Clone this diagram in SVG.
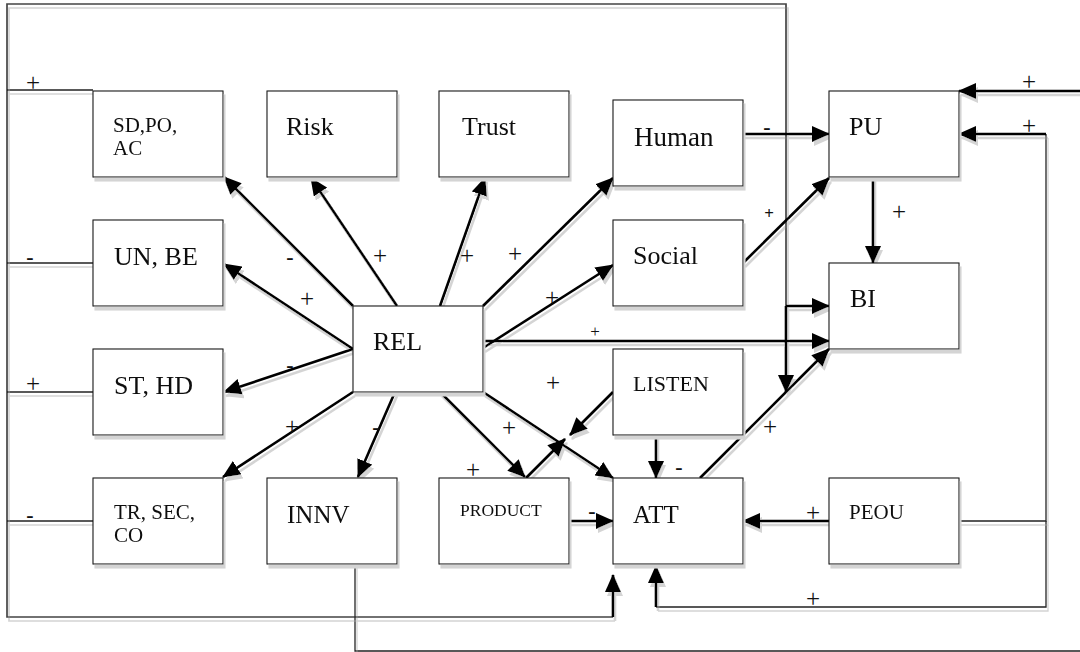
<svg xmlns="http://www.w3.org/2000/svg" width="1080" height="652" viewBox="0 0 1080 652">
  <style>
    .box { fill: #ffffff; stroke: #1a1a1a; stroke-width: 1.1; }
    .lbl { font-family: "Liberation Serif", "Times New Roman", serif; fill: #111111; }
    .sign { font-family: "Liberation Serif", "Times New Roman", serif; font-size: 25px; fill: #111111; text-anchor: middle; }
    .minus { font-weight: bold; font-size: 22px; }
    .sm { font-size: 17px; }
    .thick { fill: none; stroke: #000000; stroke-width: 2.6; }
    .thin { fill: none; stroke: #222222; stroke-width: 1.3; }
    .frame { fill: none; stroke: #444444; stroke-width: 1.7; }
    .arr { marker-end: url(#head); }
  </style>
  <defs>
    <marker id="head" markerUnits="userSpaceOnUse" markerWidth="18" markerHeight="16" viewBox="0 0 18 16" refX="17" refY="8" orient="auto">
      <path d="M0,0 L18,8 L0,16 z" fill="#000000"/>
    </marker>
    <filter id="shade" filterUnits="userSpaceOnUse" x="0" y="0" width="1080" height="652">
      <feOffset in="SourceAlpha" dx="2" dy="4" result="off"/>
      <feFlood flood-color="#d4d4d4"/>
      <feComposite in2="off" operator="in" result="sh"/>
      <feMerge>
        <feMergeNode in="sh"/>
        <feMergeNode in="SourceGraphic"/>
      </feMerge>
    </filter>
  </defs>
  <rect width="1080" height="652" fill="#ffffff"/>

  <!-- connectors -->
  <g id="connectors" filter="url(#shade)">
    <!-- outer feedback frame -->
    <polyline class="frame" points="786,306 786,4 7,4 7,617 613,617"/>
    <line class="thin" x1="7" y1="90" x2="93" y2="90"/>
    <line class="thin" x1="7" y1="263" x2="93" y2="263"/>
    <line class="thin" x1="7" y1="392" x2="93" y2="392"/>
    <line class="thin" x1="7" y1="521" x2="93" y2="521"/>
    <line class="thick arr" x1="613" y1="617" x2="613" y2="575"/>
    <line class="thick arr" x1="786" y1="306" x2="829" y2="306"/>
    <line class="thick arr" x1="786" y1="306" x2="786" y2="392"/>

    <!-- REL fan-out -->
    <line class="thick arr" x1="353" y1="306" x2="224" y2="177"/>
    <line class="thick arr" x1="397" y1="306" x2="311" y2="178"/>
    <line class="thick arr" x1="440" y1="306" x2="485" y2="178"/>
    <line class="thick arr" x1="483" y1="306" x2="613" y2="178"/>
    <line class="thick arr" x1="483" y1="348" x2="613" y2="265"/>
    <line class="thick arr" x1="483" y1="341" x2="829" y2="341"/>
    <line class="thick arr" x1="353" y1="349" x2="224" y2="264"/>
    <line class="thick arr" x1="353" y1="349" x2="224" y2="392"/>
    <line class="thick arr" x1="353" y1="392" x2="223" y2="477"/>
    <line class="thick arr" x1="395" y1="392" x2="358" y2="477"/>
    <line class="thick arr" x1="440" y1="392" x2="525" y2="477"/>
    <line class="thick arr" x1="483" y1="392" x2="613" y2="478"/>

    <!-- LISTEN / PRODUCT / ATT -->
    <line class="thick arr" x1="613" y1="392" x2="570" y2="435"/>
    <line class="thick arr" x1="526" y1="478" x2="565" y2="439"/>
    <line class="thick arr" x1="656" y1="435" x2="656" y2="478"/>
    <line class="thick arr" x1="569" y1="521" x2="613" y2="521"/>
    <line class="thick arr" x1="700" y1="478" x2="829" y2="349"/>

    <!-- PU / BI side -->
    <line class="thick arr" x1="743" y1="134" x2="829" y2="134"/>
    <line class="thick arr" x1="743" y1="263" x2="829" y2="178"/>
    <line class="thick arr" x1="873" y1="177" x2="873" y2="263"/>
    <line class="thick arr" x1="1080" y1="91" x2="959" y2="91"/>

    <!-- PEOU paths -->
    <polyline class="thin" points="959,521 1046,521 1046,134"/>
    <line class="thick arr" x1="1046" y1="134" x2="959" y2="134"/>
    <polyline class="thin" points="1046,521 1046,607 656,607"/>
    <line class="thick arr" x1="656" y1="607" x2="656" y2="566"/>
    <line class="thick arr" x1="829" y1="521" x2="743" y2="521"/>

    <!-- INNV loop -->
    <polyline class="thin" points="355,564 355,651 1080,651"/>
  </g>

  <!-- sign labels -->
  <g id="signs">
    <text class="sign" x="33" y="91">+</text>
    <text class="sign minus" x="30" y="264">-</text>
    <text class="sign" x="33" y="392">+</text>
    <text class="sign minus" x="30" y="522">-</text>
    <text class="sign minus" x="290" y="264">-</text>
    <text class="sign" x="380" y="264">+</text>
    <text class="sign" x="467" y="264">+</text>
    <text class="sign" x="515" y="262">+</text>
    <text class="sign" x="307" y="307">+</text>
    <text class="sign minus" x="290" y="372">-</text>
    <text class="sign" x="552" y="306">+</text>
    <text class="sign sm" x="595" y="337">+</text>
    <text class="sign" x="292" y="435">+</text>
    <text class="sign minus" x="376" y="434">-</text>
    <text class="sign" x="509" y="436">+</text>
    <text class="sign" x="553" y="391">+</text>
    <text class="sign" x="473" y="478">+</text>
    <text class="sign minus" x="679" y="474">-</text>
    <text class="sign" x="770" y="435">+</text>
    <text class="sign minus" x="767" y="134">-</text>
    <text class="sign sm" x="769" y="219" font-weight="bold">+</text>
    <text class="sign" x="899" y="220">+</text>
    <text class="sign" x="1029" y="90">+</text>
    <text class="sign" x="1029" y="134">+</text>
    <text class="sign" x="813" y="521">+</text>
    <text class="sign" x="813" y="607">+</text>
    <text class="sign minus" x="592" y="518">-</text>
  </g>

  <!-- nodes -->
  <g filter="url(#shade)">
    <g id="sdpoac">
      <rect class="box" x="93" y="91" width="130" height="86"/>
      <text class="lbl" font-size="21" x="113" y="132">SD,PO,</text>
      <text class="lbl" font-size="21" x="113" y="155">AC</text>
    </g>
    <g id="risk">
      <rect class="box" x="267" y="91" width="130" height="86"/>
      <text class="lbl" font-size="26" x="286" y="135">Risk</text>
    </g>
    <g id="trust">
      <rect class="box" x="439" y="91" width="130" height="86"/>
      <text class="lbl" font-size="26" x="462" y="135">Trust</text>
    </g>
    <g id="human">
      <rect class="box" x="613" y="100" width="130" height="86"/>
      <text class="lbl" font-size="27" x="634" y="146">Human</text>
    </g>
    <g id="pu">
      <rect class="box" x="829" y="91" width="130" height="86"/>
      <text class="lbl" font-size="26" x="849" y="135">PU</text>
    </g>
    <g id="unbe">
      <rect class="box" x="93" y="220" width="130" height="86"/>
      <text class="lbl" font-size="26" x="114" y="265">UN, BE</text>
    </g>
    <g id="social">
      <rect class="box" x="613" y="220" width="130" height="86"/>
      <text class="lbl" font-size="26" x="633" y="264">Social</text>
    </g>
    <g id="bi">
      <rect class="box" x="829" y="263" width="130" height="86"/>
      <text class="lbl" font-size="26" x="850" y="307">BI</text>
    </g>
    <g id="rel">
      <rect class="box" x="353" y="306" width="130" height="86"/>
      <text class="lbl" font-size="26" x="373" y="350">REL</text>
    </g>
    <g id="sthd">
      <rect class="box" x="93" y="349" width="130" height="86"/>
      <text class="lbl" font-size="26" x="114" y="394">ST, HD</text>
    </g>
    <g id="listen">
      <rect class="box" x="613" y="349" width="130" height="86"/>
      <text class="lbl" font-size="22" x="633" y="391">LISTEN</text>
    </g>
    <g id="trsecco">
      <rect class="box" x="93" y="478" width="130" height="86"/>
      <text class="lbl" font-size="21" x="114" y="519">TR, SEC,</text>
      <text class="lbl" font-size="21" x="114" y="542">CO</text>
    </g>
    <g id="innv">
      <rect class="box" x="267" y="478" width="130" height="86"/>
      <text class="lbl" font-size="25" x="287" y="523">INNV</text>
    </g>
    <g id="product">
      <rect class="box" x="439" y="478" width="130" height="86"/>
      <text class="lbl" font-size="17.5" x="460" y="516">PRODUCT</text>
    </g>
    <g id="att">
      <rect class="box" x="613" y="478" width="130" height="86"/>
      <text class="lbl" font-size="25" x="633" y="523">ATT</text>
    </g>
    <g id="peou">
      <rect class="box" x="829" y="478" width="130" height="86"/>
      <text class="lbl" font-size="21" x="849" y="519">PEOU</text>
    </g>
  </g>
</svg>
